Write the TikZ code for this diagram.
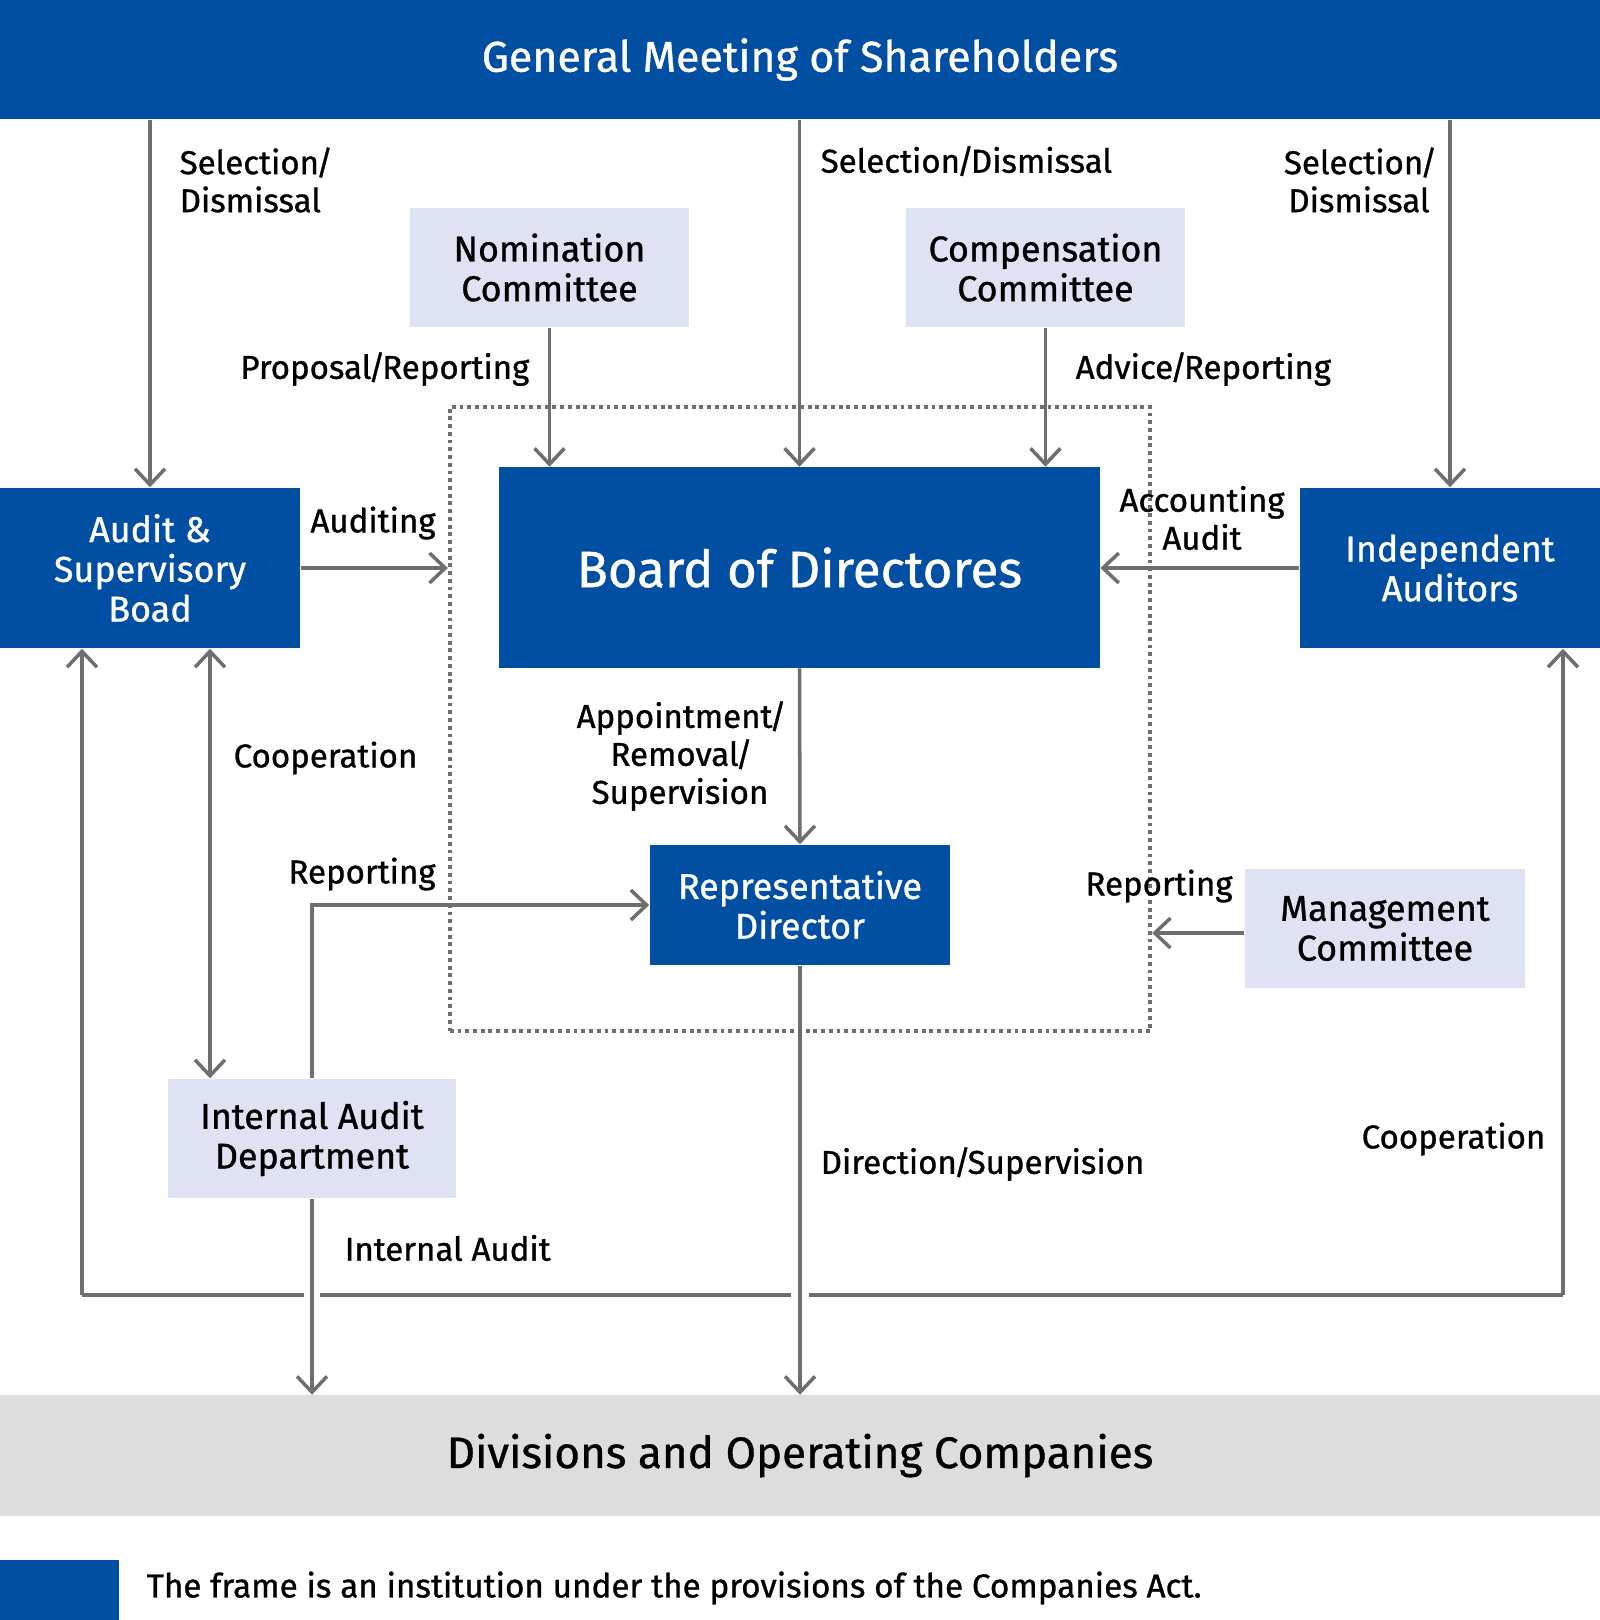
\documentclass[tikz,border=0pt]{standalone}
\usepackage{fontspec}
\setmainfont{Fira Sans}
\newfontfamily\medfont{Fira Sans}[FakeBold=0.9]
\usepackage{tikz}
\usetikzlibrary{arrows.meta,positioning,calc}
\definecolor{orgBlue}{RGB}{0,79,162}
\definecolor{orgLav}{RGB}{223,226,242}
\definecolor{orgGrey}{RGB}{221,221,221}
\definecolor{inkline}{RGB}{110,110,110}
\newcommand{\fsz}[2]{\medfont\fontsize{#1}{#2}\selectfont}
\newcommand{\slsh}{\kern-0.9pt/\kern-0.9pt}

\begin{document}
\begin{tikzpicture}[x=0.01cm,y=-0.01cm,
  bluebox/.style={fill=orgBlue,text=white,align=center,inner sep=0pt,font=\fsz{10.2}{11.3}},
  lavbox/.style={fill=orgLav,text=black,align=center,inner sep=0pt,font=\fsz{10.2}{11.3}},
  lbl/.style={font=\fsz{9.4}{10.8},align=left,inner sep=0pt},
  link/.style={draw=inkline,line width=1pt},
  arr/.style={link,-{Straight Barb[length=4.5pt,width=8.5pt]}},
  dblarr/.style={link,{Straight Barb[length=4.5pt,width=8.5pt]}-{Straight Barb[length=4.5pt,width=8.5pt]}},
  govframe/.style={draw=inkline,line width=1.1pt,dash pattern=on 1.1pt off 1.1pt,inner sep=0pt}]
  \useasboundingbox (0,0) rectangle (1600,1620);
  \node[bluebox,minimum width=16cm,minimum height=1.19cm,font=\fsz{12.2}{14}] (gms) at (800,59.5) {General Meeting of Shareholders};
  \node[govframe,minimum width=7cm,minimum height=6.24cm] (frm) at (800,719) {};
  \node[lavbox,minimum width=2.79cm,minimum height=1.19cm] (nom) at (549.5,267.5) {Nomination\\Committee};
  \node[lavbox,minimum width=2.79cm,minimum height=1.19cm] (comp) at (1045.5,267.5) {Compensation\\Committee};
  \node[bluebox,minimum width=3cm,minimum height=1.6cm] (asb) at (150,568) {Audit \&\\Supervisory\\Boad};
  \node[bluebox,minimum width=3cm,minimum height=1.6cm] (ia) at (1450,568) {Independent\\Auditors};
  \node[bluebox,minimum width=6cm,minimum height=2cm,font=\fsz{14.5}{17}] (bod) at (799.5,567.5) {Board of Directores};
  \node[bluebox,minimum width=3cm,minimum height=1.2cm] (rep) at (800,905) {Representative\\Director};
  \node[lavbox,minimum width=2.8cm,minimum height=1.19cm] (mgmt) at (1385,928.5) {Management\\Committee};
  \node[lavbox,minimum width=2.88cm,minimum height=1.19cm] (iad) at (312,1138.5) {Internal Audit\\Department};
  \node[fill=orgGrey,minimum width=16cm,minimum height=1.2cm,inner sep=0pt,font=\fsz{12.5}{14}] (div) at (800,1455.5) {Divisions and Operating Companies};
  \fill[orgBlue] (0,1560) rectangle (119,1620);
  \node[lbl,anchor=west,font=\fsz{9.45}{11}] (note) at (146,1588) {The frame is an institution under the provisions of the Companies Act.};
  \coordinate (coopA) at (210,0);
  \coordinate (loopL) at (82,1295);
  \coordinate (loopR) at (1563,1295);
  \draw[arr] (gms.south -| asb.north) -- (asb.north);
  \draw[arr] (gms.south -| bod.north) -- (bod.north);
  \draw[arr] (gms.south -| ia.north) -- (ia.north);
  \draw[arr] (nom.south) -- (nom.south |- bod.north);
  \draw[arr] (comp.south) -- (comp.south |- bod.north);
  \draw[arr] (asb.east) -- (asb.east -| frm.west);
  \draw[arr] (ia.west) -- (ia.west -| bod.east);
  \draw[arr] (bod.south) -- (rep.north);
  \draw[arr] (rep.south) -- (rep.south |- div.north);
  \draw[dblarr] (asb.south -| coopA) -- (iad.north -| coopA);
  \draw[arr] (iad.north) |- (rep.west);
  \draw[arr] (iad.south) -- (iad.south |- div.north);
  \draw[arr] ([yshift=-0.045cm]mgmt.west) -- ([yshift=-0.045cm]mgmt.west -| frm.east);
  \draw[link] ([xshift=-0.08cm]loopL -| iad.south) -- (loopL);
  \draw[arr] (loopL) -- (loopL |- asb.south);
  \draw[link] ([xshift=0.08cm]loopL -| iad.south) -- ([xshift=-0.09cm]loopL -| rep.south);
  \draw[link] ([xshift=0.09cm]loopL -| rep.south) -- (loopR);
  \draw[arr] (loopR) -- (loopR |- ia.south);
  \node[lbl,anchor=west] (selL) at (179,180) {Selection\slsh\\Dismissal};
  \node[lbl,anchor=west] (selC) at (820,161) {Selection\slsh Dismissal};
  \node[lbl,align=center] (selR) at (1359,180) {Selection\slsh\\Dismissal};
  \node[lbl,anchor=east] (propRep) at (530,369) {Proposal\slsh Reporting};
  \node[lbl,anchor=west] (advRep) at (1075,369) {Advice\slsh Reporting};
  \node[lbl] (audt) at (373,523) {Auditing};
  \node[lbl,align=center] (accAud) at (1202,518) {Accounting\\Audit};
  \node[lbl,align=center] (appt) at (680,756) {Appointment\slsh\\Removal\slsh\\Supervision};
  \node[lbl,anchor=west] (coopL) at (233,758) {Cooperation};
  \node[lbl] (repL) at (362,874) {Reporting};
  \node[lbl] (repR) at (1159,886) {Reporting};
  \node[lbl,anchor=west] (intAud) at (344,1248) {Internal Audit};
  \node[lbl,anchor=west] (dirSup) at (820,1164) {Direction\slsh Supervision};
  \node[lbl,anchor=west] (coopR) at (1361,1139) {Cooperation};
\end{tikzpicture}
\end{document}
